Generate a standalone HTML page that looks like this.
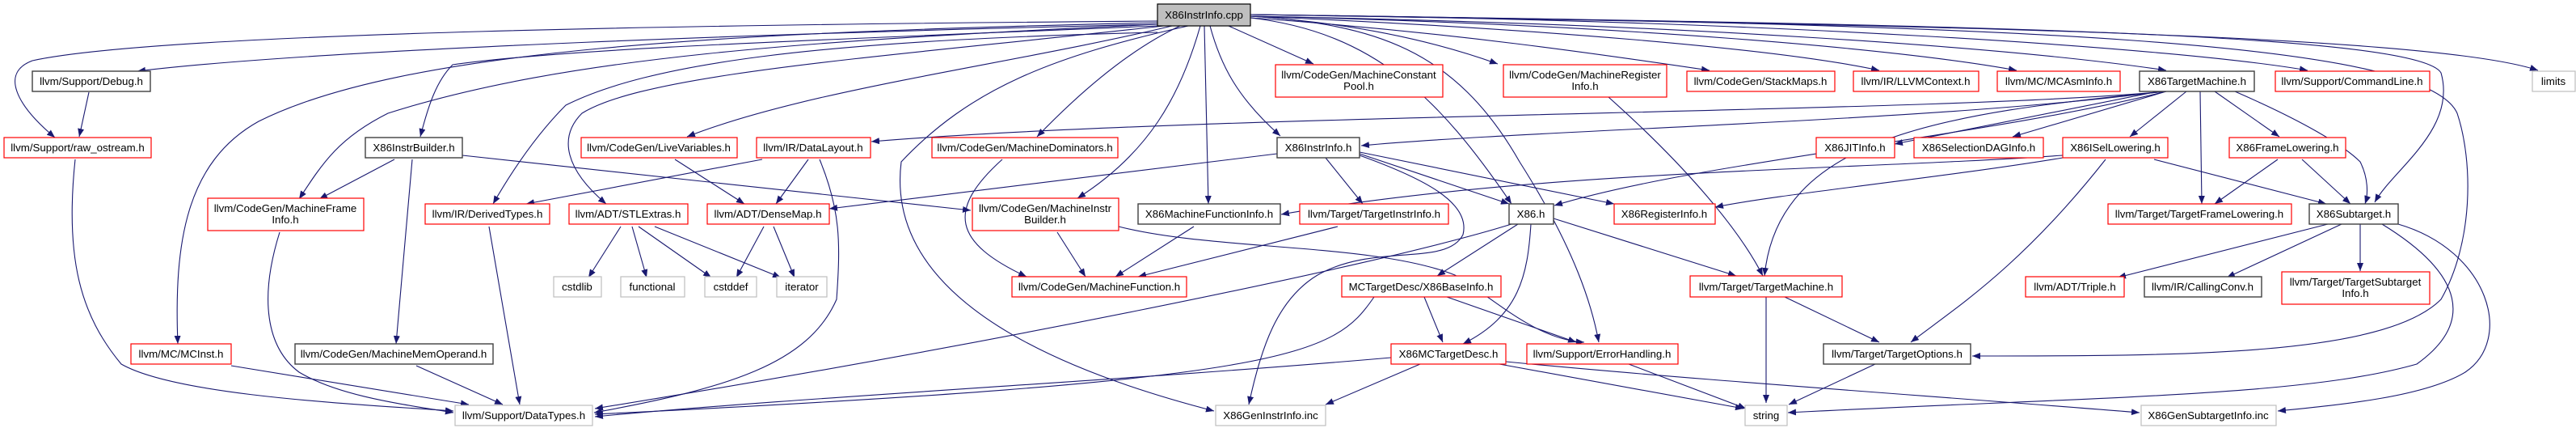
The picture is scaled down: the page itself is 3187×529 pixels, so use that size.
<!DOCTYPE html>
<html><head><meta charset="utf-8"><style>
html,body{margin:0;padding:0;background:#fff;}
svg{display:block;}
text{font-family:"Liberation Sans",sans-serif;font-size:13.3px;fill:#000;text-anchor:middle;}
.r{fill:#fff;stroke:#ff0000;stroke-width:1.2;}
.b{fill:#fff;stroke:#404040;stroke-width:1.4;}
.g{fill:#fff;stroke:#bfbfbf;stroke-width:1.2;}
.e{fill:none;stroke:#191970;stroke-width:1.1;}
</style></head><body>
<svg width="3187" height="529" viewBox="0 0 3187 529" xmlns="http://www.w3.org/2000/svg">
<defs><marker id="a" viewBox="0 0 10 8" refX="10" refY="4" markerWidth="10" markerHeight="8" markerUnits="userSpaceOnUse" orient="auto"><path d="M0,0 L10,4 L0,8 z" fill="#191970"/></marker></defs>
<g class="e" marker-end="url(#a)">
<!-- from cpp -->
<path d="M1432,26 C900,30 200,40 40,75 C0,90 20,130 68,170"/>
<path d="M1432,30 C1000,40 400,60 170,88"/>
<path d="M1432,30 C1000,50 700,70 480,140 C420,170 400,200 370,246"/>
<path d="M1432,28 C900,40 500,60 320,150 C230,200 215,300 220,425"/>
<path d="M1432,32 C1000,50 700,60 560,80 C540,100 530,130 520,169"/>
<path d="M1432,40 C1000,50 800,80 700,130 C670,160 640,200 610,252"/>
<path d="M1440,32 C1100,70 800,90 720,140 C690,170 700,210 750,252"/>
<path d="M1450,32 C1250,80 1000,110 850,169"/>
<path d="M1460,32 C1400,60 1340,110 1283,169"/>
<path d="M1485,32 C1460,120 1420,190 1333,245"/>
<path d="M1490,32 L1495,252"/>
<path d="M1470,32 C1300,70 1200,110 1115,200 C1100,320 1200,430 1502,508"/>
<path d="M1520,32 L1625,79"/>
<path d="M1497,32 C1510,80 1530,120 1584,168"/>
<path d="M1547,22 C1700,40 1780,120 1870,252"/>
<path d="M1547,20 C1700,30 1800,60 1880,200 C1950,310 1970,380 1978,423"/>
<path d="M1547,20 C1700,30 1800,60 1853,79"/>
<path d="M1547,22 C1800,40 2000,70 2115,87"/>
<path d="M1547,20 C1900,35 2200,60 2325,87"/>
<path d="M1547,20 C2000,30 2350,60 2495,87"/>
<path d="M1547,20 C2100,30 2500,60 2680,87"/>
<path d="M1547,18 C2200,25 2700,60 2855,87"/>
<path d="M1547,18 C2300,30 3000,40 3140,87"/>
<path d="M1547,18 C2400,30 2990,40 3020,90 C3040,160 2960,210 2938,250"/>
<path d="M1547,18 C2500,30 3000,50 3040,140 C3060,200 3060,300 3020,370 C2950,440 2700,440 2440,440"/>
<!-- first-level others -->
<path d="M110,114 L98,169"/>
<path d="M93,197 C80,320 100,390 150,450 C220,490 450,500 561,508"/>
<path d="M488,197 L395,246"/>
<path d="M510,197 L490,425"/>
<path d="M572,192 L1201,260"/>
<path d="M346,287 C320,370 330,430 370,460 C420,490 500,500 561,510"/>
<path d="M286,452 L580,500"/>
<path d="M515,452 L622,500"/>
<path d="M605,280 L643,500"/>
<path d="M768,280 L728,343"/>
<path d="M782,280 L800,343"/>
<path d="M790,280 L880,343"/>
<path d="M810,280 L966,343"/>
<path d="M835,197 L921,252"/>
<path d="M1000,197 L960,252"/>
<path d="M943,197 L651,252"/>
<path d="M1014,197 C1040,260 1040,300 1035,370 C1000,450 900,480 735,510"/>
<path d="M945,280 L911,343"/>
<path d="M957,280 L983,343"/>
<path d="M1240,197 C1170,260 1180,300 1270,342"/>
<path d="M1308,287 L1343,342"/>
<path d="M1384,280 C1500,310 1700,300 1800,340 C1850,370 1900,420 1960,423"/>
<path d="M1477,280 L1380,342"/>
<path d="M1580,190 L1026,258"/>
<path d="M1640,195 L1686,252"/>
<path d="M1682,190 L1867,252"/>
<path d="M1682,188 L1997,252"/>
<path d="M1682,192 C1760,220 1820,250 1810,290 C1790,330 1700,300 1630,340 C1580,370 1560,430 1545,500"/>
<path d="M1655,280 L1408,342"/>
<path d="M1870,277 C1700,330 1200,430 736,505"/>
<path d="M1878,277 L1778,341"/>
<path d="M1894,277 C1890,340 1880,390 1810,425"/>
<path d="M1922,270 L2148,341"/>
<path d="M1700,367 C1650,440 1600,470 736,512"/>
<path d="M1762,367 L1785,423"/>
<path d="M1790,367 L1950,423"/>
<path d="M1721,442 C1400,470 1000,490 736,515"/>
<path d="M1757,450 L1640,500"/>
<path d="M1855,450 L2157,505"/>
<path d="M1863,447 C2100,470 2400,490 2647,510"/>
<path d="M2015,450 L2160,505"/>
<path d="M1990,120 C2080,200 2150,280 2181,341"/>
<path d="M2185,367 L2185,498"/>
<path d="M2208,367 L2325,423"/>
<path d="M2320,450 L2213,500"/>
<!-- X86TargetMachine -->
<path d="M2680,113 C2400,140 1500,140 1078,175"/>
<path d="M2675,113 C2400,150 1900,160 1684,180"/>
<path d="M2680,113 C2450,170 2100,200 1923,254"/>
<path d="M2680,113 C2400,140 2200,170 2183,341"/>
<path d="M2670,113 L2344,178"/>
<path d="M2680,113 L2490,169"/>
<path d="M2705,113 L2635,169"/>
<path d="M2722,113 L2724,252"/>
<path d="M2740,113 L2820,169"/>
<path d="M2765,113 C2850,150 2900,180 2920,200 C2930,220 2930,240 2926,252"/>
<path d="M2552,192 C2300,210 1900,210 1585,265"/>
<path d="M2552,195 C2400,220 2200,240 2122,256"/>
<path d="M2605,197 C2500,330 2420,380 2364,423"/>
<path d="M2665,197 L2878,252"/>
<path d="M2818,197 L2740,252"/>
<path d="M2848,197 L2908,252"/>
<path d="M2880,277 L2620,343"/>
<path d="M2897,277 L2755,343"/>
<path d="M2920,277 L2920,335"/>
<path d="M2947,277 C3050,340 3060,400 2990,450 C2850,490 2600,490 2212,510"/>
<path d="M2967,277 C3080,310 3110,420 3050,460 C3000,490 2900,500 2818,508"/>
</g>
<g>
<rect x="1432" y="5" width="115" height="27" fill="#bfbfbf" stroke="#000" stroke-width="1.2"/><text x="1489.5" y="23">X86InstrInfo.cpp</text>
<rect class="b" x="40" y="88" width="146" height="25"/><text x="113" y="105">llvm/Support/Debug.h</text>
<rect class="r" x="5" y="170" width="182" height="25"/><text x="96" y="187">llvm/Support/raw_ostream.h</text>
<rect class="b" x="452" y="170" width="120" height="25"/><text x="512" y="187">X86InstrBuilder.h</text>
<rect class="r" x="257" y="245" width="193" height="40"/><text x="353" y="262">llvm/CodeGen/MachineFrame</text><text x="353" y="276">Info.h</text>
<rect class="r" x="526" y="252" width="154" height="25"/><text x="603" y="269">llvm/IR/DerivedTypes.h</text>
<rect class="r" x="704" y="252" width="147" height="25"/><text x="777" y="269">llvm/ADT/STLExtras.h</text>
<rect class="g" x="685" y="342" width="59" height="25"/><text x="714" y="359">cstdlib</text>
<rect class="g" x="768" y="342" width="79" height="25"/><text x="807" y="359">functional</text>
<rect class="g" x="872" y="342" width="64" height="25"/><text x="904" y="359">cstddef</text>
<rect class="g" x="961" y="342" width="62" height="25"/><text x="992" y="359">iterator</text>
<rect class="r" x="162" y="425" width="124" height="25"/><text x="224" y="442">llvm/MC/MCInst.h</text>
<rect class="b" x="365" y="425" width="245" height="25"/><text x="487" y="442">llvm/CodeGen/MachineMemOperand.h</text>
<rect class="g" x="563" y="501" width="170" height="25"/><text x="648" y="518">llvm/Support/DataTypes.h</text>
<rect class="r" x="719" y="170" width="193" height="25"/><text x="815" y="187">llvm/CodeGen/LiveVariables.h</text>
<rect class="r" x="936" y="170" width="141" height="25"/><text x="1006" y="187">llvm/IR/DataLayout.h</text>
<rect class="r" x="1153" y="170" width="230" height="25"/><text x="1268" y="187">llvm/CodeGen/MachineDominators.h</text>
<rect class="r" x="875" y="252" width="151" height="25"/><text x="950" y="269">llvm/ADT/DenseMap.h</text>
<rect class="r" x="1203" y="245" width="181" height="40"/><text x="1293" y="262">llvm/CodeGen/MachineInstr</text><text x="1293" y="276">Builder.h</text>
<rect class="b" x="1408" y="252" width="176" height="25"/><text x="1496" y="269">X86MachineFunctionInfo.h</text>
<rect class="r" x="1252" y="342" width="216" height="25"/><text x="1360" y="359">llvm/CodeGen/MachineFunction.h</text>
<rect class="g" x="1504" y="501" width="136" height="25"/><text x="1572" y="518">X86GenInstrInfo.inc</text>
<rect class="r" x="1578" y="80" width="207" height="40"/><text x="1681" y="97">llvm/CodeGen/MachineConstant</text><text x="1681" y="111">Pool.h</text>
<rect class="b" x="1580" y="170" width="102" height="25"/><text x="1631" y="187">X86InstrInfo.h</text>
<rect class="r" x="1860" y="80" width="202" height="40"/><text x="1961" y="97">llvm/CodeGen/MachineRegister</text><text x="1961" y="111">Info.h</text>
<rect class="r" x="2087" y="88" width="183" height="25"/><text x="2178" y="105">llvm/CodeGen/StackMaps.h</text>
<rect class="r" x="2293" y="88" width="155" height="25"/><text x="2370" y="105">llvm/IR/LLVMContext.h</text>
<rect class="r" x="1608" y="252" width="184" height="25"/><text x="1700" y="269">llvm/Target/TargetInstrInfo.h</text>
<rect class="b" x="1867" y="252" width="55" height="25"/><text x="1894" y="269">X86.h</text>
<rect class="r" x="1997" y="252" width="125" height="25"/><text x="2059" y="269">X86RegisterInfo.h</text>
<rect class="r" x="2247" y="170" width="97" height="25"/><text x="2295" y="187">X86JITInfo.h</text>
<rect class="r" x="2368" y="170" width="160" height="25"/><text x="2448" y="187">X86SelectionDAGInfo.h</text>
<rect class="r" x="1660" y="341" width="197" height="26"/><text x="1758" y="359">MCTargetDesc/X86BaseInfo.h</text>
<rect class="r" x="2091" y="341" width="188" height="26"/><text x="2185" y="359">llvm/Target/TargetMachine.h</text>
<rect class="r" x="1721" y="425" width="142" height="25"/><text x="1792" y="442">X86MCTargetDesc.h</text>
<rect class="r" x="1889" y="425" width="187" height="25"/><text x="1982" y="442">llvm/Support/ErrorHandling.h</text>
<rect class="b" x="2256" y="425" width="182" height="25"/><text x="2347" y="442">llvm/Target/TargetOptions.h</text>
<rect class="g" x="2159" y="501" width="52" height="25"/><text x="2185" y="518">string</text>
<rect class="r" x="2471" y="88" width="152" height="25"/><text x="2547" y="105">llvm/MC/MCAsmInfo.h</text>
<rect class="b" x="2647" y="88" width="142" height="25"/><text x="2718" y="105">X86TargetMachine.h</text>
<rect class="r" x="2815" y="88" width="191" height="25"/><text x="2910" y="105">llvm/Support/CommandLine.h</text>
<rect class="g" x="3133" y="88" width="53" height="25"/><text x="3159" y="105">limits</text>
<rect class="r" x="2552" y="170" width="130" height="25"/><text x="2617" y="187">X86ISelLowering.h</text>
<rect class="r" x="2758" y="170" width="144" height="25"/><text x="2830" y="187">X86FrameLowering.h</text>
<rect class="r" x="2608" y="252" width="227" height="25"/><text x="2721" y="269">llvm/Target/TargetFrameLowering.h</text>
<rect class="b" x="2857" y="252" width="110" height="25"/><text x="2912" y="269">X86Subtarget.h</text>
<rect class="r" x="2506" y="342" width="122" height="25"/><text x="2567" y="359">llvm/ADT/Triple.h</text>
<rect class="b" x="2653" y="342" width="145" height="25"/><text x="2725" y="359">llvm/IR/CallingConv.h</text>
<rect class="r" x="2823" y="336" width="183" height="40"/><text x="2914" y="353">llvm/Target/TargetSubtarget</text><text x="2914" y="367">Info.h</text>
<rect class="g" x="2649" y="501" width="167" height="25"/><text x="2732" y="518">X86GenSubtargetInfo.inc</text>
</g>
</svg>
</body></html>
